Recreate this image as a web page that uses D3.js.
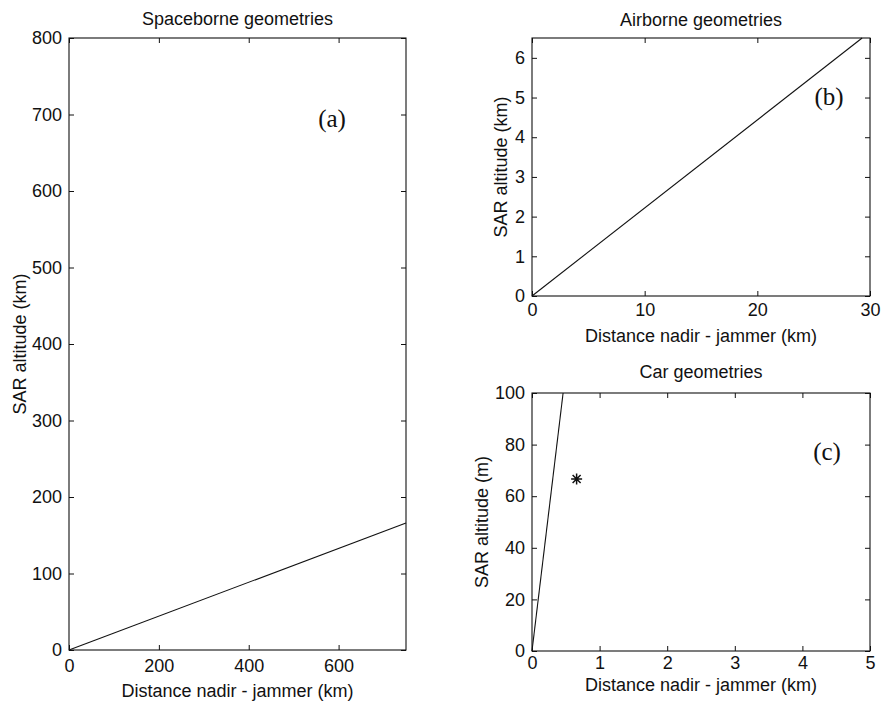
<!DOCTYPE html>
<head>
    <title>SAR jammer geometries</title>
    <script src='https://d3js.org/d3.v7.min.js'></script>
</head>
<style>
body {
  margin: 0;
  background: #fff;
  font-family: 'Liberation Sans', Arial, Helvetica, sans-serif;
}
text {
    fill: #111;
}
.frame {
    fill: none;
    stroke: #111;
    stroke-width: 1.1px;
}
.curve {
    fill: none;
    stroke: #111;
    stroke-width: 1.1px;
}
</style>
<body>
    <svg></svg>
</body>

<script>
    // Spaceborne (a)
    var spaceX = [0, 750];
    var spaceY = [0, 166];
    var spaceXTicks = [0, 200, 400, 600];
    var spaceYTicks = [0, 100, 200, 300, 400, 500, 600, 700, 800];

    // Airborne (b)
    var airX = [0, 29.3];
    var airY = [0, 6.5];
    var airXTicks = [0, 10, 20, 30];
    var airYTicks = [0, 1, 2, 3, 4, 5, 6];

    // Car (c)
    var carX = [0, 0.46];
    var carY = [0, 100];
    var carJammerX = [0.66];
    var carJammerY = [66.7];
    var carXTicks = [0, 1, 2, 3, 4, 5];
    var carYTicks = [0, 20, 40, 60, 80, 100];

    var vWidth = 882;
    var vHeight = 703;
    var fs = 18;

    var svg = d3.select('svg')
        .attr('width', vWidth)
        .attr('height', vHeight);

    var panels = [
        { title: 'Spaceborne geometries', ylab: 'SAR altitude (km)', tag: '(a)',
          xs: spaceX, ys: spaceY, xt: spaceXTicks, yt: spaceYTicks,
          xd: [0, 750], yd: [0, 800], box: [69, 406, 38, 650],
          tagPos: [332, 127], ylabX: 20, titleY: 25, xtickY: 22, xlabY: 47 },
        { title: 'Airborne geometries', ylab: 'SAR altitude (km)', tag: '(b)',
          xs: airX, ys: airY, xt: airXTicks, yt: airYTicks,
          xd: [0, 30], yd: [0, 6.5], box: [532, 870, 38, 296],
          tagPos: [829, 105], ylabX: 501, titleY: 26, xtickY: 20, xlabY: 46 },
        { title: 'Car geometries', ylab: 'SAR altitude (m)', tag: '(c)',
          xs: carX, ys: carY, xt: carXTicks, yt: carYTicks,
          xd: [0, 5], yd: [0, 100], box: [532, 870, 393, 651],
          tagPos: [827, 460], ylabX: 482, titleY: 378, xtickY: 18, xlabY: 40,
          px: carJammerX, py: carJammerY }
    ];

    panels.forEach(drawPanel);

    function drawPanel(p) {
        var x = d3.scaleLinear().domain(p.xd).range([p.box[0], p.box[1]]);
        var y = d3.scaleLinear().domain(p.yd).range([p.box[3], p.box[2]]);
        var g = svg.append('g');
        var tl = 5;
        var fmt = d3.format('d');

        // axes with inward ticks, MATLAB box style
        var bx = g.append('g').attr('transform', 'translate(0,' + p.box[3] + ')')
            .call(d3.axisBottom(x).tickValues(p.xt).tickFormat(fmt).tickSizeInner(-tl).tickSizeOuter(0))
            .call(styleAxis);
        bx.selectAll('.tick text').attr('dy', null).attr('y', p.xtickY);
        g.append('g').attr('transform', 'translate(0,' + p.box[2] + ')')
            .call(d3.axisTop(x).tickValues(p.xt).tickSizeInner(-tl).tickSizeOuter(0).tickFormat(''))
            .call(styleAxis);
        g.append('g').attr('transform', 'translate(' + p.box[0] + ',0)')
            .call(d3.axisLeft(y).tickValues(p.yt).tickFormat(fmt).tickSizeInner(-tl).tickSizeOuter(0).tickPadding(7))
            .call(styleAxis);
        g.append('g').attr('transform', 'translate(' + p.box[1] + ',0)')
            .call(d3.axisRight(y).tickValues(p.yt).tickSizeInner(-tl).tickSizeOuter(0).tickFormat(''))
            .call(styleAxis);

        g.append('rect').attr('class', 'frame')
            .attr('x', p.box[0]).attr('y', p.box[2])
            .attr('width', p.box[1] - p.box[0]).attr('height', p.box[3] - p.box[2]);

        // geometry line
        var line = d3.line().x(function (d) { return x(d[0]); }).y(function (d) { return y(d[1]); });
        g.append('path').attr('class', 'curve')
            .attr('d', line(d3.zip(p.xs, p.ys)));

        // jammer marker
        if (p.px) {
            g.selectAll('.star').data(d3.zip(p.px, p.py)).enter().append('path')
                .attr('class', 'curve')
                .attr('transform', function (d) { return 'translate(' + x(d[0]) + ',' + y(d[1]) + ')'; })
                .attr('d', 'M-5.5,0H5.5M0,-5.5V5.5M-4,-4L4,4M-4,4L4,-4')
                .style('stroke-width', '1.5px');
        }

        var cx = (p.box[0] + p.box[1]) / 2;
        var cy = (p.box[2] + p.box[3]) / 2;

        g.append('text').attr('x', cx).attr('y', p.titleY)
            .attr('text-anchor', 'middle').style('font-size', fs + 'px').text(p.title);
        g.append('text').attr('x', cx).attr('y', p.box[3] + p.xlabY)
            .attr('text-anchor', 'middle').style('font-size', fs + 'px')
            .text('Distance nadir - jammer (km)');
        g.append('text')
            .attr('transform', 'translate(' + p.ylabX + ',' + cy + ')rotate(-90)')
            .attr('text-anchor', 'middle').attr('dy', '0.35em').style('font-size', fs + 'px')
            .text(p.ylab);
        g.append('text').attr('x', p.tagPos[0]).attr('y', p.tagPos[1])
            .attr('text-anchor', 'middle')
            .style('font-family', "'Liberation Serif', 'Times New Roman', serif")
            .style('font-size', '25px').text(p.tag);
    }

    function styleAxis(sel) {
        sel.select('.domain').remove();
        sel.selectAll('.tick line').attr('stroke', '#111');
        sel.selectAll('.tick text').attr('fill', '#111')
            .style('font-size', fs + 'px')
            .style('font-family', "'Liberation Sans', Arial, sans-serif");
    }
</script>
